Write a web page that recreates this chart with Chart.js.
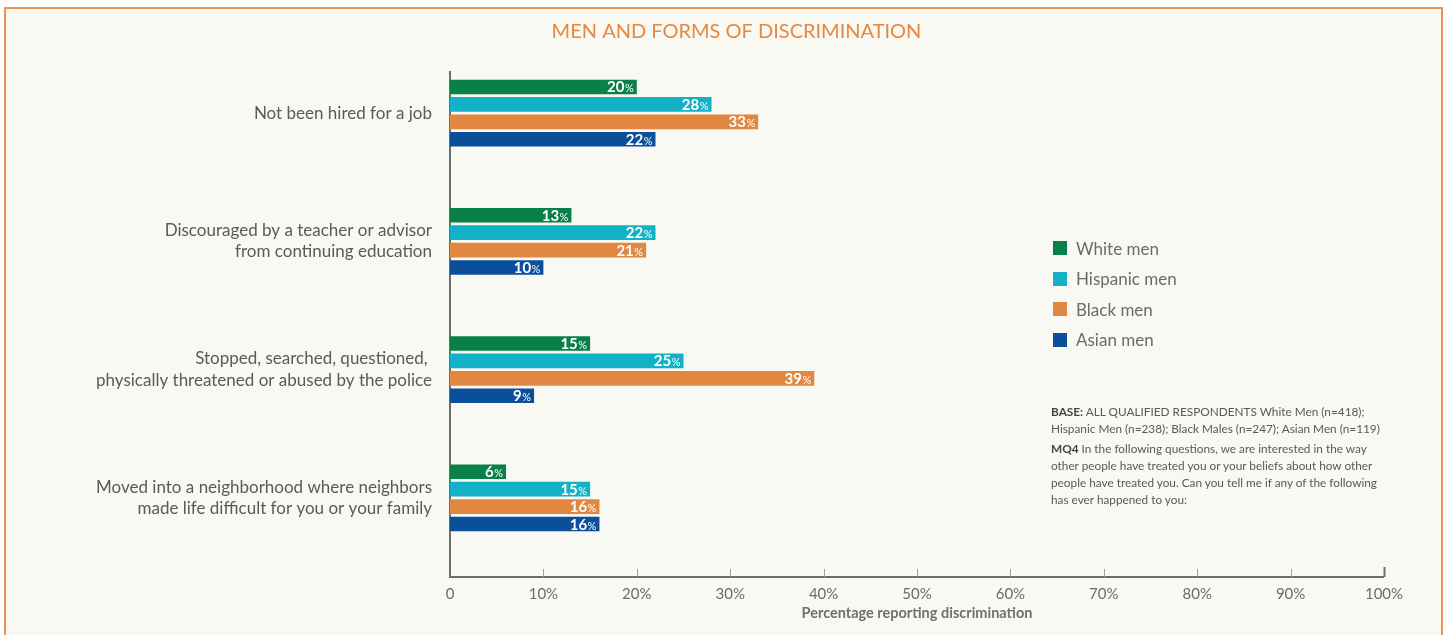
<!DOCTYPE html>
<html>
<head>
<meta charset="utf-8">
<title>Men and forms of discrimination</title>
<script src="https://cdn.jsdelivr.net/npm/chart.js@4.4.1/dist/chart.umd.min.js"></script>
<style>
    html, body { margin: 0; padding: 0; background: #ffffff; }
    body { width: 1445px; height: 635px; position: relative; overflow: hidden; font-family: Lato, sans-serif; }
    #frame {
        position: absolute; left: 4px; top: 7px; width: 1435px; height: 700px;
        border: 2px solid #eb9356; background: #f7f9f2;
    }
    #chart { position: absolute; left: 0; top: 0; }
    #legend { position: absolute; left: 1053px; top: 233px; }
    .legend-item { display: flex; align-items: center; height: 30.5px; color: #6b6b6b; font-size: 17px; }
    .legend-item .swatch { width: 14px; height: 14px; margin-right: 9px; }
    #note { position: absolute; left: 1051px; top: 404px; width: 370px; color: #595959; font-size: 11.8px; line-height: 16.7px; }
    #note p { margin: 0 0 4px 0; }
    #note b { color: #444; }
</style>
</head>
<body>
<div id="frame"></div>
<canvas id="chart" width="1445" height="635"></canvas>
<div id="legend"></div>
<div id="note">
    <p><b>BASE:</b> ALL QUALIFIED RESPONDENTS White Men (n=418);<br>Hispanic Men (n=238); Black Males (n=247); Asian Men (n=119)</p>
    <p><b>MQ4</b> In the following questions, we are interested in the way<br>other people have treated you or your beliefs about how other<br>people have treated you. Can you tell me if any of the following<br>has ever happened to you:</p>
</div>
<script>
// categories (multi-line y labels)
const categories = [
    ['Not been hired for a job'],
    ['Discouraged by a teacher or advisor', 'from continuing education'],
    ['Stopped, searched, questioned, ', 'physically threatened or abused by the police'],
    ['Moved into a neighborhood where neighbors', 'made life difficult for you or your family']
];

// percentages per group
const whiteMen = [20, 13, 15, 6];
const hispanicMen = [28, 22, 25, 15];
const blackMen = [33, 21, 39, 16];
const asianMen = [22, 10, 9, 16];

const seriesNames = ['White men', 'Hispanic men', 'Black men', 'Asian men'];
const seriesColors = ['#0a8049', '#12b1c6', '#e2873f', '#0b4f9b'];

// x axis ticks 0..100 step 10
const xTicks = [0, 10, 20, 30, 40, 50, 60, 70, 80, 90, 100];

const FONT = 'Lato, sans-serif';
const AXIS_DROP = 15; // x axis line sits a little below the last bar group

// value labels inside the bar end, with a smaller % sign
const barLabels = {
    id: 'barLabels',
    afterDatasetsDraw(chart) {
        const ctx = chart.ctx;
        ctx.save();
        ctx.fillStyle = '#ffffff';
        ctx.textBaseline = 'alphabetic';
        ctx.textAlign = 'right';
        chart.data.datasets.forEach((ds, i) => {
            chart.getDatasetMeta(i).data.forEach((bar, j) => {
                const v = ds.data[j];
                const x = bar.x - 3;
                const y = bar.y + 5.5;
                ctx.font = `11px ${FONT}`;
                const pw = ctx.measureText('%').width;
                ctx.fillText('%', x, y);
                ctx.font = `bold 15px ${FONT}`;
                ctx.fillText(String(v), x - pw - 0.5, y);
            });
        });
        ctx.restore();
    }
};

// axis lines with short upward ticks
const axisLines = {
    id: 'axisLines',
    beforeDatasetsDraw(chart) {
        const ctx = chart.ctx;
        const xs = chart.scales.x;
        const area = chart.chartArea;
        const axisY = area.bottom + AXIS_DROP;
        const x0 = xs.getPixelForValue(0);
        const x1 = xs.getPixelForValue(100);
        ctx.save();
        ctx.strokeStyle = '#6e6e6e';
        ctx.lineWidth = 2;
        ctx.beginPath();
        ctx.moveTo(x0, area.top + 22);
        ctx.lineTo(x0, axisY);
        ctx.lineTo(x1, axisY);
        ctx.stroke();
        xTicks.slice(1).forEach((t) => {
            const px = Math.round(xs.getPixelForValue(t)) + 0.5;
            const last = t === 100;
            ctx.strokeStyle = last ? '#6e6e6e' : '#a0a0a0';
            ctx.lineWidth = last ? 2 : 1;
            ctx.beginPath();
            ctx.moveTo(px, axisY - (last ? 10 : 8));
            ctx.lineTo(px, axisY);
            ctx.stroke();
        });
        ctx.restore();
    }
};

const data = {
    labels: categories,
    datasets: [whiteMen, hispanicMen, blackMen, asianMen].map((values, i) => ({
        label: seriesNames[i],
        data: values,
        backgroundColor: seriesColors[i],
        borderWidth: 0,
        categoryPercentage: 0.544,
        barPercentage: 0.84
    }))
};

const chart = new Chart(document.getElementById('chart'), {
    type: 'bar',
    data: data,
    options: {
        indexAxis: 'y',
        responsive: false,
        animation: false,
        layout: { padding: { left: 89, right: 61, top: 0, bottom: 0 } },
        plugins: {
            legend: { display: false },
            tooltip: { enabled: false },
            title: {
                display: true,
                text: 'MEN AND FORMS OF DISCRIMINATION',
                color: '#e8873f',
                font: { family: FONT, size: 20, weight: 'normal' },
                padding: { top: 20, bottom: 5 }
            }
        },
        scales: {
            x: {
                min: 0,
                max: 100,
                grid: { display: false },
                border: { display: false },
                afterFit: (scale) => { scale.height = 73; },
                afterBuildTicks: (scale) => { scale.ticks = xTicks.map((v) => ({ value: v })); },
                ticks: {
                    padding: 15,
                    maxRotation: 0,
                    autoSkip: false,
                    color: '#6b6b6b',
                    font: { family: FONT, size: 15 },
                    callback: (v) => (v === 0 ? '0' : v + '%')
                },
                title: {
                    display: true,
                    text: 'Percentage reporting discrimination',
                    color: '#707070',
                    font: { family: FONT, size: 14.5, weight: 'bold' },
                    padding: { top: 0, bottom: 13 }
                }
            },
            y: {
                grid: { display: false, drawTicks: false },
                border: { display: false },
                afterFit: (scale) => { scale.width = 361; },
                ticks: {
                    padding: 18,
                    autoSkip: false,
                    color: '#5a5a5a',
                    font: { family: FONT, size: 17, lineHeight: 1.25 }
                }
            }
        }
    },
    plugins: [axisLines, barLabels]
});

// html legend built from the datasets
const legendEl = document.getElementById('legend');
chart.data.datasets.forEach((ds) => {
    const item = document.createElement('div');
    item.className = 'legend-item';
    item.innerHTML = `<span class="swatch" style="background:${ds.backgroundColor}"></span><span>${ds.label}</span>`;
    legendEl.appendChild(item);
});
</script>
</body>
</html>
